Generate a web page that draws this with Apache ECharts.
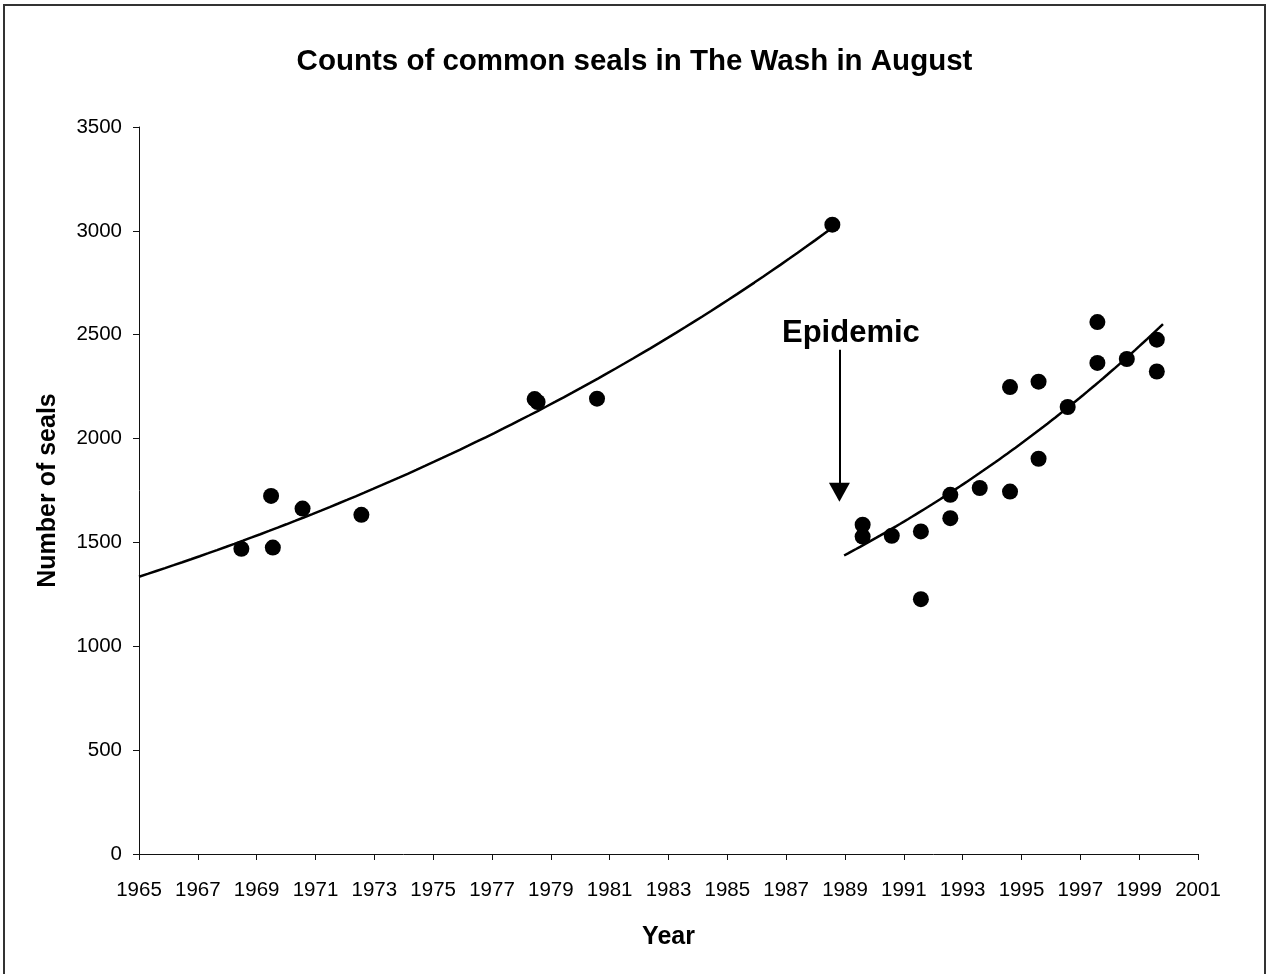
<!DOCTYPE html>
<html>
<head>
<meta charset="utf-8">
<script src="https://cdn.jsdelivr.net/npm/echarts@6/dist/echarts.min.js"></script>
<style>
html,body{margin:0;padding:0;background:#fff;}
#chart{width:1269px;height:974px;}
</style>
</head>
<body>
<div id="chart"></div>
<script>
// Pre-epidemic counts (year, seals)
const leftYears  = [1968.48, 1969.49, 1969.55, 1970.56, 1972.56, 1978.45, 1978.55, 1980.57, 1988.57];
const leftCounts = [1469, 1724, 1475, 1663, 1633, 2190, 2176, 2192, 3030];
// Post-epidemic counts
const rightYears  = [1989.6, 1989.6, 1990.59, 1991.58, 1991.58, 1992.58, 1992.58, 1993.58, 1994.61, 1994.61, 1995.58, 1995.58, 1996.57, 1997.58, 1997.58, 1998.58, 1999.6, 1999.6];
const rightCounts = [1585, 1528, 1532, 1553, 1227, 1729, 1617, 1762, 1745, 2248, 2274, 1903, 2152, 2561, 2364, 2383, 2476, 2323];
// Exponential trendlines: end points [year, seals]
const leftTrendEnds  = [[1965, 1335], [1988.57, 3015]];
const rightTrendEnds = [[1988.97, 1437], [1999.81, 2551]];
// Annotation
const epidemicLabel = 'Epidemic';
const epidemicArrow = [[1988.81, 2428], [1988.81, 1741]];
const epidemicLabelPos = [1989.2, 2505];
// Texts
const titleText = 'Counts of common seals in The Wash in August';
const xAxisTitle = 'Year';
const yAxisTitle = 'Number of seals';

const FONT = "'Liberation Sans', Arial, sans-serif";

// exponential curve through two end points, sampled along the span
function trendPoints(ends) {
  const [x0, y0] = ends[0], [x1, y1] = ends[1];
  const r = Math.log(y1 / y0) / (x1 - x0);
  const pts = [];
  const steps = 80;
  for (let i = 0; i <= steps; i++) {
    const x = x0 + (x1 - x0) * i / steps;
    pts.push([x, y0 * Math.exp(r * (x - x0))]);
  }
  return pts;
}
const zip = (a, b) => a.map((v, i) => [v, b[i]]);

const chart = echarts.init(document.getElementById('chart'), null, {renderer: 'canvas'});
chart.setOption({
  animation: false,
  backgroundColor: '#fff',
  textStyle: {fontFamily: FONT},
  title: {
    text: titleText,
    left: 'center',
    top: 42,
    textStyle: {fontFamily: FONT, fontSize: 29.5, fontWeight: 'bold', color: '#000'}
  },
  graphic: [{
    type: 'rect',
    shape: {x: 4, y: 5, width: 1261, height: 1000},
    style: {fill: 'none', stroke: '#333', lineWidth: 2},
    silent: true
  }],
  grid: {left: 139, right: 71, top: 127, bottom: 120},
  xAxis: {
    type: 'value',
    min: 1965, max: 2001, interval: 2,
    name: xAxisTitle,
    nameLocation: 'middle',
    nameGap: 71,
    nameTextStyle: {fontFamily: FONT, fontSize: 25, fontWeight: 'bold', color: '#000', verticalAlign: 'top'},
    splitLine: {show: false},
    axisLine: {lineStyle: {color: '#111', width: 1}},
    axisTick: {show: true, length: 6, lineStyle: {color: '#111'}},
    axisLabel: {formatter: v => String(v), fontSize: 20.5, color: '#000', margin: 26, fontFamily: FONT}
  },
  yAxis: {
    type: 'value',
    min: 0, max: 3500, interval: 500,
    name: yAxisTitle,
    nameLocation: 'middle',
    nameGap: 78,
    nameTextStyle: {fontFamily: FONT, fontSize: 25, fontWeight: 'bold', color: '#000'},
    splitLine: {show: false},
    axisLine: {show: true, lineStyle: {color: '#111', width: 1}},
    axisTick: {show: true, length: 6, lineStyle: {color: '#111'}},
    axisLabel: {formatter: v => String(v), fontSize: 20.5, color: '#000', margin: 17, fontFamily: FONT}
  },
  series: [
    {
      type: 'line',
      data: trendPoints(leftTrendEnds),
      showSymbol: false, symbol: 'none',
      lineStyle: {color: '#000', width: 2.5},
      silent: true, z: 2
    },
    {
      type: 'line',
      data: trendPoints(rightTrendEnds),
      showSymbol: false, symbol: 'none',
      lineStyle: {color: '#000', width: 2.5},
      silent: true, z: 2,
      markLine: {
        silent: true,
        symbol: ['none', 'triangle'],
        symbolSize: [21, 19],
        label: {show: false},
        lineStyle: {color: '#000', width: 2, type: 'solid'},
        data: [[{coord: epidemicArrow[0]}, {coord: epidemicArrow[1]}]]
      },
      markPoint: {
        silent: true,
        symbol: 'circle',
        symbolSize: 0,
        data: [{
          coord: epidemicLabelPos,
          label: {show: true, formatter: epidemicLabel, position: 'inside', fontSize: 31, fontWeight: 'bold', color: '#000', fontFamily: FONT}
        }]
      }
    },
    {
      type: 'scatter',
      data: zip(leftYears, leftCounts),
      symbol: 'circle', symbolSize: 16,
      itemStyle: {color: '#000', opacity: 1}, z: 3
    },
    {
      type: 'scatter',
      data: zip(rightYears, rightCounts),
      symbol: 'circle', symbolSize: 16,
      itemStyle: {color: '#000', opacity: 1}, z: 3
    }
  ]
});
</script>
</body>
</html>
